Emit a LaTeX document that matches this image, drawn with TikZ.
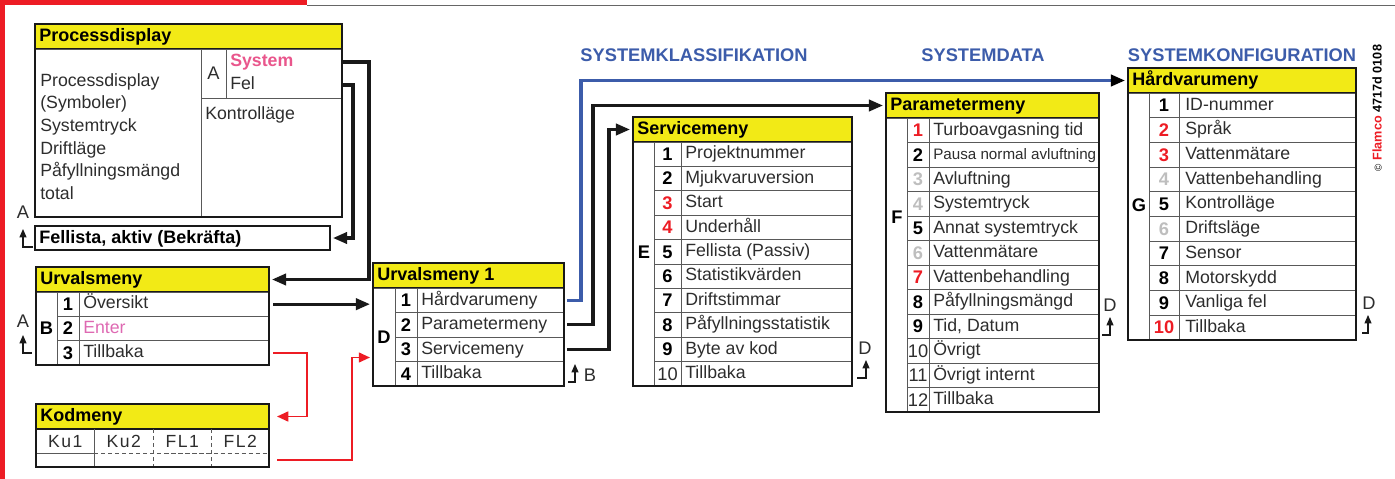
\documentclass[tikz,border=0pt]{standalone}
\usepackage{fontspec}
\setmainfont{Liberation Sans}
\newfontfamily\kodfamilia[LetterSpace=8]{Liberation Sans}
\usetikzlibrary{arrows.meta,calc}

\definecolor{amarillo}{RGB}{242,234,22}
\definecolor{rojo}{RGB}{237,28,36}
\definecolor{azul}{RGB}{60,92,170}
\definecolor{rosa}{RGB}{233,86,140}
\definecolor{rosaclaro}{RGB}{222,105,178}
\definecolor{gris}{RGB}{190,190,190}
\definecolor{texto}{RGB}{45,45,45}

% Unidad: un pixel de la imagen
\newcommand{\pxl}{0.025cm}
\newcommand{\fuenteitem}{\fontsize{12.6}{14}\selectfont}
\newcommand{\fuentecab}{\fontsize{12.8}{14}\selectfont\bfseries}
\newcommand{\fuentenum}{\fontsize{13}{14}\selectfont\bfseries}
\newcommand{\fuenteletra}{\fontsize{13}{15}\selectfont\bfseries}
\newcommand{\fuentemarca}{\fontsize{13}{15}\selectfont}
\newcommand{\fuentetit}{\fontsize{13}{15}\selectfont\bfseries}
\newcommand{\fuentepeq}{\fontsize{10.8}{12}\selectfont}
\newcommand{\fuentekod}{\fontsize{12.5}{14}\kodfamilia\selectfont}

\begin{document}
\begin{tikzpicture}[x=0.025cm, y=-0.025cm,
    celda/.style={draw=black!65, line width=0.7pt, anchor=north west, inner sep=0pt, outer sep=0pt},
    cabeza/.style={celda, draw=black!90, line width=0.9pt, fill=amarillo, minimum height=25*\pxl},
    marco/.style={draw=black!90, line width=0.9pt},
    interior/.style={draw=black!65, line width=0.7pt},
    item/.style={anchor=west, inner xsep=0.1cm, inner ysep=0pt, font=\fuenteitem, text=texto, text height=9.4pt, text depth=2.6pt},
    titulo/.style={item, font=\fuentecab, text=black, text height=9.8pt, text depth=2pt},
    numero/.style={inner sep=0pt, font=\fuentenum, text height=9pt, text depth=0pt},
    letra/.style={numero, font=\fuenteletra, text=black},
    marca/.style={inner sep=0pt, font=\fuentemarca, text=texto, text height=9pt, text depth=0pt},
    conector/.style={line width=2.2pt, draw=black!90, -{Triangle[length=10pt,width=8pt]}, shorten >=0.075cm},
    conrojo/.style={line width=1.4pt, draw=rojo, -{Triangle[length=8pt,width=7pt]}, shorten >=0.075cm},
    conazul/.style={conector, draw=azul, -{Triangle[length=10pt,width=8pt,color=black]}},
    vuelta/.style={line width=0.8pt, draw=black!90, -{Triangle[length=6pt,width=5pt]}},
    seccion/.style={font=\fuentetit, text=azul, inner sep=0pt}
]
\useasboundingbox (0,0) rectangle (1395,479);

% Marco de la pagina
\draw[rojo, line width=3.6pt] (0,2.5) -- (307,2.5);
\draw[rojo, line width=3.6pt] (2.5,0) -- (2.5,479);
\draw[black!60, line width=1pt] (307,5.5) -- (1395,5.5);

% Titulos de seccion
\node[seccion] (t-clas) at (694,55) {SYSTEMKLASSIFIKATION};
\node[seccion] (t-data) at (983,55) {SYSTEMDATA};
\node[seccion] (t-konf) at (1242,55) {SYSTEMKONFIGURATION};
\node[rotate=90, inner sep=0pt, font=\fontsize{9}{10}\selectfont\bfseries] (copy) at (1377,108)
    {{\mdseries\fontsize{7}{8}\selectfont ©}~\textcolor{rojo}{Flamco} 4717d 0108};

% Processdisplay
\node[cabeza, minimum width=307*\pxl] (pd) at (35,24) {};
\node[titulo] (pd-t) at (pd.west) {Processdisplay};
\node[celda, minimum width=166*\pxl, minimum height=168*\pxl] (pd-list) at (35,49) {};
\foreach \txt [count=\row] in {Processdisplay, (Symboler), Systemtryck, Driftläge, Påfyllningsmängd, total} {
    \pgfmathsetmacro{\ypos}{86.3+(\row-1)*22.6}
    \node[anchor=base west, inner sep=0pt, font=\fuenteitem, text=texto] (pd-l\row) at (40,\ypos) {\txt};
}
\node[celda, minimum width=25*\pxl, minimum height=49*\pxl] (pd-a) at (201,49) {};
\node[marca] (pd-al) at (pd-a) {A};
\node[celda, minimum width=116*\pxl, minimum height=49*\pxl] (pd-sys) at (226,49) {};
\node[item, font=\fuenteitem\bfseries, text=rosa] (pd-system) at (226,62) {System};
\node[item] (pd-fel) at (226,85) {Fel};
\node[celda, minimum width=141*\pxl, minimum height=119*\pxl] (pd-ctrl) at (201,98) {};
\node[item] (pd-k) at (201,115) {Kontrolläge};
\draw[marco] (pd.north west) rectangle (pd-ctrl.south east);

% Fellista
\node[celda, draw=black!90, line width=0.9pt, minimum width=295*\pxl, minimum height=24*\pxl] (fl) at (35,226) {};
\node[titulo] (fl-t) at (fl.west) {Fellista, aktiv (Bekräfta)};

% Urvalsmeny
\node[cabeza, minimum width=233*\pxl] (um) at (36,267) {};
\node[titulo] (um-t) at (um.west) {Urvalsmeny};
\node[celda, minimum width=21*\pxl, minimum height=73*\pxl] (um-col) at (36,292) {};
\node[letra] (um-l) at (um-col) {B};
\foreach \nr/\col/\txt [count=\row] in {1/black/Översikt, 2/black/\textcolor{rosaclaro}{Enter}, 3/black/Tillbaka} {
    \pgfmathsetmacro{\ypos}{292+(\row-1)*24.33}
    \node[celda, minimum width=22*\pxl, minimum height=24.33*\pxl] (um-n\row) at (57,\ypos) {};
    \node[numero, text=\col] (um-k\row) at (um-n\row) {\nr};
    \node[celda, minimum width=190*\pxl, minimum height=24.33*\pxl] (um-r\row) at (79,\ypos) {};
    \node[item] (um-\row) at (um-r\row.west) {\txt};
}
\draw[marco] (um.north west) rectangle (um-r3.south east);

% Kodmeny
\node[cabeza, minimum width=233*\pxl] (km) at (36,404) {};
\node[titulo] (km-t) at (km.west) {Kodmeny};
\foreach \txt/\xa/\w [count=\row] in {Ku1/36/58, Ku2/94/59, FL1/153/58, FL2/211/58} {
    \node[anchor=north west, inner sep=0pt, minimum width=\w*\pxl, minimum height=24*\pxl, font=\fuentekod, text=texto, text height=9pt, text depth=0pt] (km-\row) at (\xa,429) {\txt};
}
\node[celda, draw=none, minimum width=233*\pxl, minimum height=14*\pxl] (km-bot) at (36,453) {};
\draw[interior] (km-1.north east) -- (km-1.east |- km-bot.south);
\draw[interior] (km-1.south west) -- (km-1.south east);
\draw[interior, dash pattern=on 3pt off 2pt] (km-2.south west) -- (km-4.south east);
\draw[interior, dash pattern=on 3pt off 2pt] (km-2.north east) -- (km-2.east |- km-bot.south);
\draw[interior, dash pattern=on 3pt off 2pt] (km-3.north east) -- (km-3.east |- km-bot.south);
\draw[marco] (km.north west) rectangle (km-bot.south east);

% Urvalsmeny 1
\node[cabeza, minimum width=191*\pxl] (u1) at (373,263) {};
\node[titulo] (u1-t) at (u1.west) {Urvalsmeny 1};
\node[celda, minimum width=22*\pxl, minimum height=98*\pxl] (u1-col) at (373,288) {};
\node[letra] (u1-l) at (u1-col) {D};
\foreach \nr/\col/\txt [count=\row] in {1/black/Hårdvarumeny, 2/black/Parametermeny, 3/black/Servicemeny, 4/black/Tillbaka} {
    \pgfmathsetmacro{\ypos}{288+(\row-1)*24.5}
    \node[celda, minimum width=22*\pxl, minimum height=24.5*\pxl] (u1-n\row) at (395,\ypos) {};
    \node[numero, text=\col] (u1-k\row) at (u1-n\row) {\nr};
    \node[celda, minimum width=147*\pxl, minimum height=24.5*\pxl] (u1-r\row) at (417,\ypos) {};
    \node[item] (u1-\row) at (u1-r\row.west) {\txt};
}
\draw[marco] (u1.north west) rectangle (u1-r4.south east);

% Servicemeny
\node[cabeza, minimum width=219*\pxl] (sm) at (633,117) {};
\node[titulo] (sm-t) at (sm.west) {Servicemeny};
\node[celda, minimum width=21*\pxl, minimum height=244*\pxl] (sm-col) at (633,142) {};
\node[letra] (sm-l) at (644,252) {E};
\foreach \nr/\col/\txt [count=\row] in {1/black/Projektnummer, 2/black/Mjukvaruversion, 3/rojo/Start,
    4/rojo/Underhåll, 5/black/Fellista (Passiv), 6/black/Statistikvärden, 7/black/Driftstimmar,
    8/black/Påfyllningsstatistik, 9/black/Byte av kod, \textmd{10}/texto/Tillbaka} {
    \pgfmathsetmacro{\ypos}{142+(\row-1)*24.4}
    \node[celda, minimum width=27*\pxl, minimum height=24.4*\pxl] (sm-n\row) at (654,\ypos) {};
    \node[numero, text=\col] (sm-k\row) at (sm-n\row) {\nr};
    \node[celda, minimum width=171*\pxl, minimum height=24.4*\pxl] (sm-r\row) at (681,\ypos) {};
    \node[item] (sm-\row) at (sm-r\row.west) {\txt};
}
\draw[marco] (sm.north west) rectangle (sm-r10.south east);

% Parametermeny
\node[cabeza, minimum width=213*\pxl] (pm) at (886,93) {};
\node[titulo] (pm-t) at (pm.west) {Parametermeny};
\node[celda, minimum width=21*\pxl, minimum height=294*\pxl] (pm-col) at (886,118) {};
\node[letra] (pm-l) at (897,217) {F};
\foreach \nr/\col/\txt [count=\row] in {1/rojo/Turboavgasning tid, 2/black/{\fuentepeq Pausa normal avluftning},
    3/gris/Avluftning, 4/gris/Systemtryck, 5/black/Annat systemtryck, 6/gris/Vattenmätare,
    7/rojo/Vattenbehandling, 8/black/Påfyllningsmängd, 9/black/{Tid, Datum},
    \textmd{10}/texto/Övrigt, \textmd{11}/texto/Övrigt internt, \textmd{12}/texto/Tillbaka} {
    \pgfmathsetmacro{\ypos}{118+(\row-1)*24.5}
    \node[celda, minimum width=22*\pxl, minimum height=24.5*\pxl] (pm-n\row) at (907,\ypos) {};
    \node[numero, text=\col] (pm-k\row) at (pm-n\row) {\nr};
    \node[celda, minimum width=170*\pxl, minimum height=24.5*\pxl] (pm-r\row) at (929,\ypos) {};
    \node[item] (pm-\row) at (pm-r\row.west) {\txt};
}
\draw[marco] (pm.north west) rectangle (pm-r12.south east);

% Hardvarumeny
\node[cabeza, minimum width=228*\pxl] (hm) at (1128,68) {};
\node[titulo] (hm-t) at (hm.west) {Hårdvarumeny};
\node[celda, minimum width=21*\pxl, minimum height=247*\pxl] (hm-col) at (1128,93) {};
\node[letra] (hm-l) at (1139,205) {G};
\foreach \nr/\col/\txt [count=\row] in {1/black/ID-nummer, 2/rojo/Språk, 3/rojo/Vattenmätare,
    4/gris/Vattenbehandling, 5/black/Kontrolläge, 6/gris/Driftsläge, 7/black/Sensor,
    8/black/Motorskydd, 9/black/Vanliga fel, 10/rojo/Tillbaka} {
    \pgfmathsetmacro{\ypos}{93+(\row-1)*24.7}
    \node[celda, minimum width=30*\pxl, minimum height=24.7*\pxl] (hm-n\row) at (1149,\ypos) {};
    \node[numero, text=\col] (hm-k\row) at (hm-n\row) {\nr};
    \node[celda, minimum width=177*\pxl, minimum height=24.7*\pxl] (hm-r\row) at (1179,\ypos) {};
    \node[item, inner xsep=0.15cm] (hm-\row) at (hm-r\row.west) {\txt};
}
\draw[marco] (hm.north west) rectangle (hm-r10.south east);

% Conectores
\draw[conector] (pd-sys.east |- pd-system) -- ++(27,0) |- (um.east);
\draw[conector] (pd-sys.east |- pd-fel) -- ++(11,0) |- (fl.east);
\draw[conector, shorten <=0.1cm] (um-r1.east) -- (um-r1.east -| u1-col.west);
\draw[conrojo, shorten <=0.1cm, shorten >=0.2cm] (um-r3.east) -- ++(38,0) |- (km.east);
\draw[conrojo, shorten <=0.2cm] (km-bot.east) -- ++(83,0) |- ($(u1-col.west |- u1-r3.south)+(0,-4)$);
\draw[conazul, shorten <=0.075cm] (u1-r1.east) -- ++(17,0) |- (hm.west);
\draw[conector, shorten <=0.075cm] (u1-r2.east) -- ++(29,0) |- (pm.west);
\draw[conector, shorten <=0.075cm] (u1-r3.east) -- ++(45,0) |- (sm.west);

% Marcas de retorno
\foreach \nm/\x/\y/\pie/\lab/\lx/\ly in {
    va/23/247/10/A/23/212,
    vb/23/353/9/A/23/321,
    vc/575/382/-7/B/590/375,
    vd/866/378/-9/D/865/348,
    ve/1110/335/-8/D/1110/305,
    vf/1368/333/-6/D/1369/303} {
    \coordinate (\nm) at (\x,\y);
    \draw[vuelta] (\nm) ++(\pie,0) -- (\nm) -- ++(0,-18);
    \node[marca] (\nm-l) at (\lx,\ly) {\lab};
}
\end{tikzpicture}
\end{document}
